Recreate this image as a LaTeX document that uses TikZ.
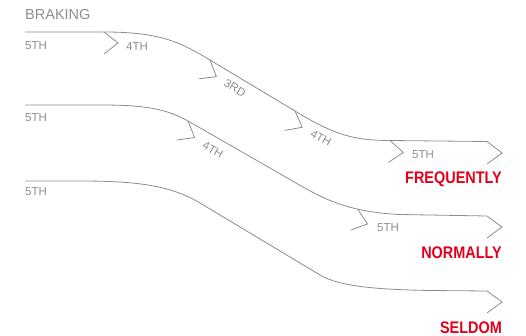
\documentclass[tikz,border=0pt]{standalone}
\usepackage{fontspec}
\setmainfont{Liberation Sans}
\newfontfamily\redfont[FakeStretch=0.86]{Liberation Sans Bold}
\definecolor{linegray}{HTML}{8C8C8C}
\definecolor{textgray}{HTML}{8E8E8E}
\definecolor{brakered}{HTML}{E2001A}
\tikzset{route/.style={
    draw=linegray,
    line width=0.8pt,
  },
  gearlabel/.style={
    text=textgray,
    font=\fontsize{11.5}{13}\selectfont,
    inner sep=0pt,
  },
  rowlabel/.style={
    text=brakered,
    font=\redfont\fontsize{16.8}{18}\selectfont,
    inner sep=0pt,
    anchor=base east,
  },
  pics/gear/.style={
    code={\draw[route] (0,0) -- (14,11) -- (0,22);}
  }
}

\begin{document}
\begin{tikzpicture}[x=1pt,y=-1pt]
  \useasboundingbox (0,0) rectangle (526,336);

  % -- The three braking routes.
  \draw[route] (25,32) -- (104,32) coordinate (a1)
    .. controls (160,32) and (180,42) .. (210,60) coordinate (a2)
    -- (295,111) coordinate (a3)
    .. controls (333,134) and (352,140.5) .. (390,140.5) coordinate (a4)
    -- (487,141.5) -- (502,153) -- (487,164);
  \draw[route] (25,105) -- (100,105)
    .. controls (142,105) and (165,108) .. (188,121) coordinate (b1)
    -- (290,179.5)
    .. controls (320,197) and (345,212) .. (400,214.5) coordinate[pos=0.7] (b2)
    -- (487,216) -- (502,227) -- (487,238);
  \draw[route] (25,181) -- (80,181)
    .. controls (135,181) and (170,185) .. (200,203)
    -- (320,275)
    .. controls (340,287) and (380,289.5) .. (430,290.5)
    -- (487,291) -- (502,302) -- (487,313);

  % -- Gear change marks.
  \pic at (a1) {gear};
  \pic[rotate=-31] at (a2) {gear};
  \pic[rotate=-28] at (a3) {gear};
  \pic[rotate=-4] at (a4) {gear};
  \pic[rotate=-30] at (b1) {gear};
  \pic[rotate=-18] at (b2) {gear};

  % -- Gear labels.
  \node[gearlabel, anchor=west, font=\fontsize{14.5}{16}\selectfont] (braking) at (25,15) {BRAKING};
  \node[gearlabel, anchor=west] (s1) at (25,46) {5TH};
  \node[gearlabel, anchor=west] (s2) at (25,118) {5TH};
  \node[gearlabel, anchor=west] (s3) at (25,192) {5TH};
  \node[gearlabel] (a1t) at (137,47) {4TH};
  \node[gearlabel, rotate=-31] (a2t) at (235,88) {3RD};
  \node[gearlabel, rotate=-28] (a3t) at (321,138) {4TH};
  \node[gearlabel] (a4t) at (423,155) {5TH};
  \node[gearlabel, rotate=-30] (b1t) at (213,150) {4TH};
  \node[gearlabel] (b2t) at (388,228) {5TH};

  % -- How often.
  \node[rowlabel] (freq) at (502,184) {FREQUENTLY};
  \node[rowlabel] (norm) at (502,258) {NORMALLY};
  \node[rowlabel] (seld) at (502,333) {SELDOM};
\end{tikzpicture}
\end{document}
